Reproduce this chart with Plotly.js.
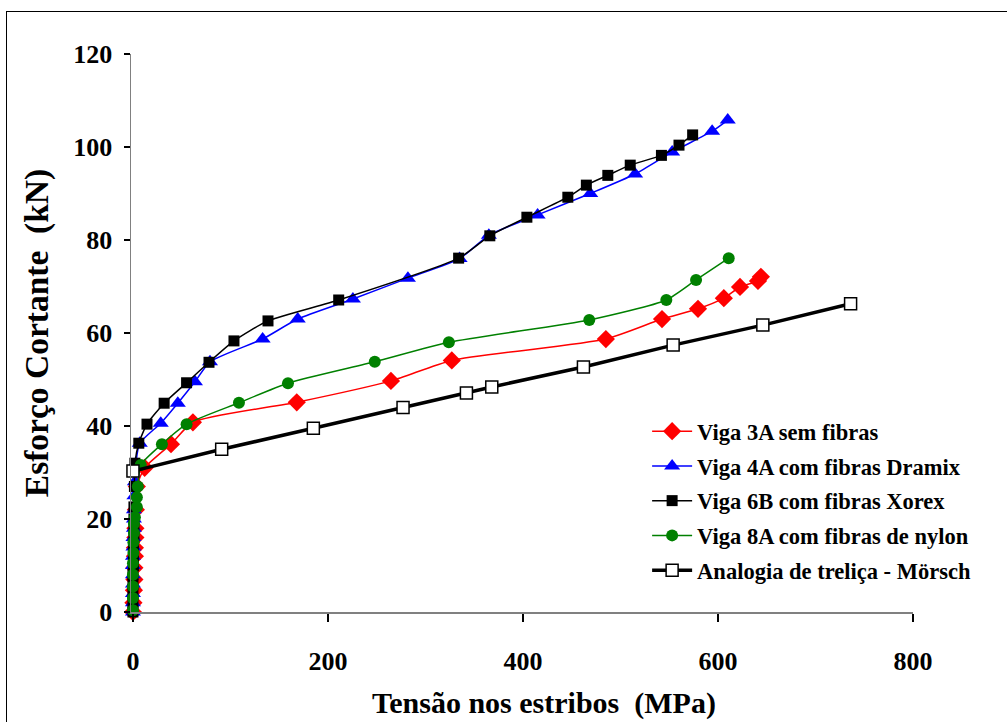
<!DOCTYPE html>
<html>
<head>
<meta charset="utf-8">
<script src="https://cdn.plot.ly/plotly-3.0.1.min.js"></script>
<style>
  html, body { margin: 0; padding: 0; background: #fff; overflow: hidden; }
  #frame { position: absolute; left: 6px; top: 11px; width: 1100px; height: 800px; border: 1.5px solid #000; box-sizing: border-box; pointer-events: none; z-index: 5; }
  #chart { position: absolute; left: 0; top: 0; width: 1007px; height: 722px; }
</style>
</head>
<body>
<div id="chart"></div>
<div id="frame"></div>
<script>
// Viga 3A sem fibras
const x3A = [0, 0.5, 1, 1.5, 1.5, 2, 2, 2.5, 2.5, 3, 4, 12, 39, 61.5, 168, 264.6, 327, 485, 542.6, 579.5, 606, 622.6, 641, 644];
const y3A = [0, 2, 4.7, 7, 9.5, 12, 13.8, 16, 18, 22, 27, 31, 36.1, 40.8, 45.1, 49.7, 54.1, 58.7, 63, 65.2, 67.5, 69.9, 71.2, 72.1];
// Viga 4A com fibras Dramix
const x4A = [0, 0, 0, 0, 0, 0, 0, 0.5, 0.5, 1, 1, 1, 1.5, 2, 3, 7, 28.5, 46, 63.6, 79, 133, 169, 225.6, 282, 335, 365, 415, 469, 515, 553, 594, 610];
const y4A = [0, 2, 4, 6, 8, 10, 12, 14, 16, 18, 20, 22, 25, 28, 32, 36.3, 40.6, 44.9, 49.5, 53.8, 58.7, 63, 67.3, 71.8, 76, 81, 85.4, 90, 94.2, 98.9, 103.4, 105.8];
// Viga 6B com fibras Xorex
const x6B = [0, 0, 0, 0, 0, 0.5, 0.5, 0.5, 1, 1, 1, 1, 1.5, 2, 6, 14.4, 32, 55, 78, 103.6, 138.5, 211, 334, 366, 404, 446, 465, 487, 510, 542, 560, 574];
const y6B = [0, 2, 4, 6, 8, 10, 12, 14, 16, 18, 20, 22.6, 27, 32, 36.3, 40.4, 44.9, 49.3, 53.7, 58.3, 62.6, 67.1, 76.1, 80.9, 84.9, 89.2, 91.8, 93.9, 96.1, 98.2, 100.4, 102.6];
// Viga 8A com fibras de nylon
const x8A = [0, 0, 0, 0, 0, 0.5, 0.5, 1, 1, 2, 4, 4, 5, 8, 29.7, 55, 108.7, 159, 248, 324, 468, 547, 577.5, 611];
const y8A = [0.4, 3, 5.5, 8, 10.5, 12.7, 15, 17, 19, 20.4, 22.6, 24.7, 27, 31.6, 36.1, 40.4, 45, 49.2, 53.8, 58, 62.8, 67.1, 71.4, 76.1];
// Analogia de treliça - Mörsch
const xM = [0, 91, 185, 277, 342, 368, 462, 554, 646, 736];
const yM = [30.3, 35, 39.5, 44, 47.1, 48.4, 52.7, 57.4, 61.7, 66.3];

const names = ['Viga 3A sem fibras', 'Viga 4A com fibras Dramix', 'Viga 6B com fibras Xorex', 'Viga 8A com fibras de nylon', 'Analogia de treliça - Mörsch'];
const xTicks = [0, 200, 400, 600, 800];
const yTicks = [0, 20, 40, 60, 80, 100, 120];
const xTitle = 'Tensão nos estribos\u00A0 (MPa)';
const yTitle = 'Esforço Cortante\u00A0 (kN)';

const serif = 'Liberation Serif, Times New Roman, serif';
const traces = [
  {x: x3A, y: y3A, name: names[0], legendgroup: 'a', mode: 'lines+markers',
   line: {color: '#ff0000', width: 1.5, shape: 'spline', smoothing: 0.6},
   marker: {symbol: 'diamond', size: 14, color: '#ff0000'}},
  {x: x4A, y: y4A, name: names[1], legendgroup: 'b', mode: 'lines+markers',
   line: {color: '#0000ff', width: 1.5, shape: 'spline', smoothing: 0.6},
   marker: {symbol: 'triangle-up', size: 14, color: '#0000ff'}},
  {x: x6B, y: y6B, name: names[2], legendgroup: 'c', mode: 'lines+markers',
   line: {color: '#000000', width: 1.5, shape: 'spline', smoothing: 0.6},
   marker: {symbol: 'square', size: 11, color: '#000000'}},
  {x: x8A, y: y8A, name: names[3], legendgroup: 'd', mode: 'lines+markers',
   line: {color: '#008000', width: 1.5, shape: 'spline', smoothing: 0.6},
   marker: {symbol: 'circle', size: 12, color: '#008000'}},
  {x: xM, y: yM, name: names[4], legendgroup: 'e', mode: 'lines+markers',
   line: {color: '#000000', width: 3.5},
   marker: {symbol: 'square', size: 12, color: '#ffffff', line: {color: '#000000', width: 1.5}}}
];
traces.forEach(t => { t.cliponaxis = false; });

const layout = {
  width: 1007, height: 722,
  margin: {l: 131, r: 94, t: 54, b: 110},
  paper_bgcolor: '#ffffff', plot_bgcolor: '#ffffff',
  font: {family: serif, color: '#000000'},
  showlegend: true,
  legend: {
    x: 0.66, y: 0.362, xanchor: 'left', yanchor: 'top',
    font: {family: serif, size: 22.5, weight: 'bold', color: '#000'},
    bgcolor: 'rgba(255,255,255,0)', tracegroupgap: 2.5, itemwidth: 40,
    borderwidth: 0
  },
  annotations: [{
    text: xTitle, xref: 'paper', yref: 'paper', x: 0.528, y: -0.163,
    xanchor: 'center', yanchor: 'middle', showarrow: false,
    font: {family: serif, size: 30, weight: 'bold', color: '#000'}
  }],
  xaxis: {
    range: [-2, 800], tickvals: xTicks, ticktext: xTicks.map(String),
    showgrid: false, zeroline: false, showline: true, linecolor: '#808080', linewidth: 1.5,
    ticks: 'outside', ticklen: 8, tickcolor: '#000', tickwidth: 1.2,
    tickfont: {family: serif, size: 26, weight: 'bold'}, ticklabelstandoff: 17,
    automargin: false
  },
  yaxis: {
    range: [0, 120], tickvals: yTicks, ticktext: yTicks.map(String),
    showgrid: false, zeroline: false, showline: true, linecolor: '#808080', linewidth: 1.5,
    ticks: 'outside', ticklen: 6, tickcolor: '#000', tickwidth: 1.2,
    tickfont: {family: serif, size: 26, weight: 'bold'}, ticklabelstandoff: 6,
    title: {text: yTitle, font: {family: serif, size: 33.5, weight: 'bold'}, standoff: 14},
    automargin: false
  }
};

Plotly.newPlot('chart', traces, layout, {staticPlot: true, displayModeBar: false});
</script>
</body>
</html>
